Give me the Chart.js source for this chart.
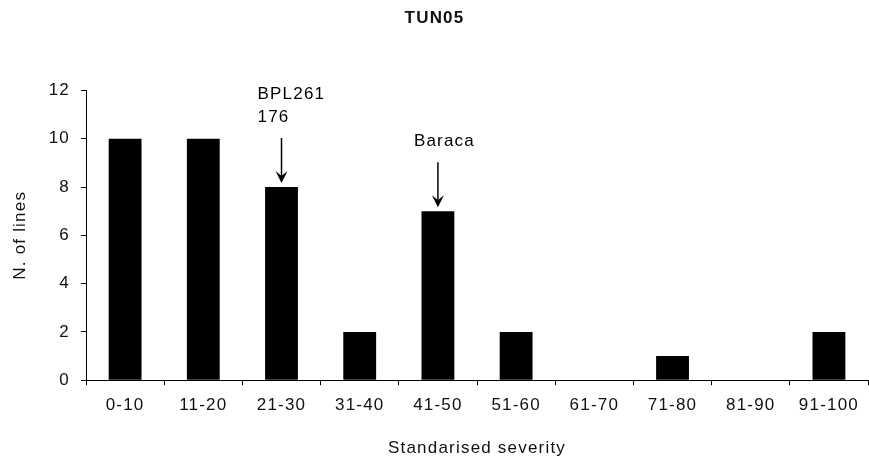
<!DOCTYPE html>
<html>
<head>
<meta charset="utf-8">
<script src="https://cdn.jsdelivr.net/npm/chart.js@4"></script>
<style>
  body { margin: 0; background: #fff; }
  #wrap { width: 869px; height: 460px; }
</style>
</head>
<body>
<div id="wrap"><canvas id="Chart"></canvas></div>
<script>
// data
const categories = ["0-10", "11-20", "21-30", "31-40", "41-50", "51-60", "61-70", "71-80", "81-90", "91-100"];
const lineCounts = [10, 10, 8, 2, 7, 2, 0, 1, 0, 2];
const yTicks = [0, 2, 4, 6, 8, 10, 12];
const noteLabels = [["BPL261", "176"], ["Baraca"]];
const noteCategories = ["21-30", "41-50"];

const textColor = "#111";
const fontFamily = "'Liberation Sans', Arial, sans-serif";

// the original text is a bit wider, so spread letters a little
const spacing = {
    id: "spacing",
    beforeLayout(chart) { chart.ctx.letterSpacing = "1.2px"; },
    beforeDraw(chart) { chart.ctx.letterSpacing = "1.2px"; },
};

// arrows + labels above the marked bars
const arrowNotes = {
    id: "arrowNotes",
    afterDatasetsDraw(chart) {
        const ctx = chart.ctx;
        const x = chart.scales.x;
        const y = chart.scales.y;
        ctx.save();
        ctx.strokeStyle = "#000";
        ctx.fillStyle = "#000";
        ctx.lineWidth = 1.5;
        ctx.font = "17px " + fontFamily;
        ctx.textBaseline = "middle";
        ctx.textAlign = "left";
        noteCategories.forEach(function (cat, i) {
            const idx = categories.indexOf(cat);
            const cx = x.getPixelForValue(idx);
            const top = y.getPixelForValue(lineCounts[idx]);
            const tipY = top - 4;
            const tailY = tipY - 45;
            ctx.beginPath();
            ctx.moveTo(cx, tailY);
            ctx.lineTo(cx, tipY - 6);
            ctx.stroke();
            ctx.beginPath();
            ctx.moveTo(cx - 6, tipY - 12);
            ctx.lineTo(cx, tipY);
            ctx.lineTo(cx + 6, tipY - 12);
            ctx.lineTo(cx, tipY - 7);
            ctx.closePath();
            ctx.fill();
            const lines = noteLabels[i];
            lines.forEach(function (t, k) {
                const ly = tailY - 21 - (lines.length - 1 - k) * 23;
                ctx.fillText(t, cx - 24, ly);
            });
        });
        ctx.restore();
    }
};

const ctx = document.getElementById("Chart");
const chart = new Chart(ctx, {
    type: "bar",
    data: {
        labels: categories,
        datasets: [{
            label: "N. of lines",
            data: lineCounts,
            backgroundColor: "#000",
            borderWidth: 0,
            barPercentage: 0.42,
            categoryPercentage: 1,
        }],
    },
    options: {
        responsive: true,
        maintainAspectRatio: false,
        animation: false,
        plugins: {
            legend: { display: false },
            tooltip: { enabled: false },
            title: {
                display: true,
                text: "TUN05",
                color: textColor,
                font: { family: fontFamily, size: 17, weight: "bold" },
                padding: { top: 8, bottom: 62 },
            },
        },
        scales: {
            x: {
                grid: {
                    drawOnChartArea: false,
                    drawTicks: true,
                    tickLength: 5,
                    color: "#000",
                },
                border: { display: true, color: "#000", width: 1 },
                ticks: {
                    color: textColor,
                    padding: 10,
                    maxRotation: 0,
                    font: { family: fontFamily, size: 17 },
                },
                title: {
                    display: true,
                    text: "Standarised severity",
                    color: textColor,
                    font: { family: fontFamily, size: 17 },
                    padding: { top: 13, bottom: 1 },
                },
            },
            y: {
                min: 0,
                max: 12,
                afterFit(scale) { scale.width = 86; },
                afterBuildTicks(scale) { scale.ticks = yTicks.map(v => ({ value: v })); },
                grid: {
                    drawOnChartArea: false,
                    drawTicks: true,
                    tickLength: 5,
                    color: "#000",
                },
                border: { display: true, color: "#000", width: 1 },
                ticks: {
                    color: textColor,
                    padding: 11,
                    font: { family: fontFamily, size: 17 },
                },
                title: {
                    display: true,
                    text: "N. of lines",
                    color: textColor,
                    font: { family: fontFamily, size: 17 },
                    padding: { top: 10, bottom: 0 },
                },
            },
        },
    },
    plugins: [spacing, arrowNotes],
});
</script>
</body>
</html>
